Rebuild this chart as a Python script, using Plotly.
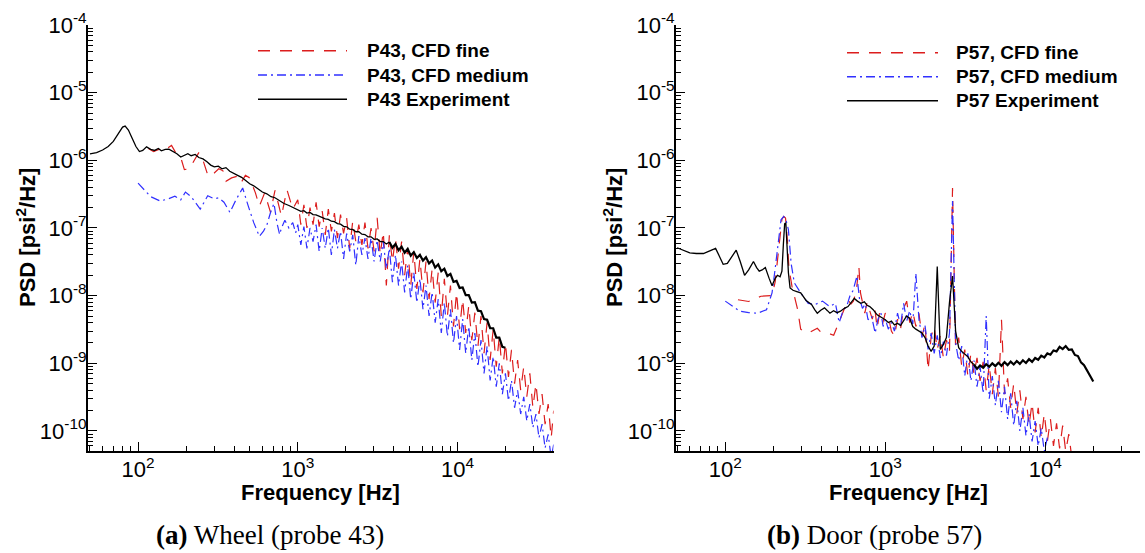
import plotly.graph_objects as go

W, H = 1145, 553


def px(x):
    return x / W


def py(y):
    return 1 - y / H


# ---------------- data ----------------
# shared frequency grid of the high-resolution part of the spectra [Hz]
GRID = [1000, 1045, 1092, 1141, 1193, 1246, 1302, 1361, 1422, 1486,
        1553, 1623, 1696, 1772, 1852, 1935, 2022, 2113, 2208, 2308,
        2411, 2520, 2633, 2752, 2876, 3005, 3140, 3282, 3429, 3584,
        3745, 3913, 4089, 4274, 4466, 4667, 4877, 5096, 5326, 5565,
        5816, 6078, 6351, 6637, 6936, 7248, 7574, 7915, 8271, 8644,
        9033, 9439, 9864, 10308, 10772, 11256, 11763, 12292, 12845, 13423,
        14027, 14659, 15318, 16008, 16728, 17481, 18268, 19090, 19949, 20846,
        21784, 22765, 23789, 24860, 25978, 27147, 28369, 29646, 30980, 32374,
        33831, 35353, 36944, 38606, 40000]

# ---- (a) Wheel, probe 43 ----
EXP43_F = [50, 55, 60, 65, 70, 75, 80, 83, 87, 92, 97, 102, 107, 113, 120, 127, 134, 140, 148, 156,
           165, 175, 185, 195, 205, 215, 228, 240, 255, 270, 285, 300, 318, 335, 355, 375, 395, 420,
           445, 470, 500, 530, 560, 600, 640, 680, 720, 770, 820, 880, 940]
EXP43_LO = [1.25e-6, 1.3e-6, 1.42e-6, 1.6e-6, 1.9e-6, 2.4e-6, 3.1e-6, 3.2e-6, 2.8e-6, 2.1e-6,
            1.6e-6, 1.35e-6, 1.4e-6, 1.58e-6, 1.45e-6, 1.4e-6, 1.5e-6, 1.38e-6, 1.45e-6, 1.46e-6,
            1.35e-6, 1.25e-6, 1.12e-6, 1.2e-6, 1.25e-6, 1.17e-6, 1.22e-6, 1.1e-6, 1.05e-6, 9.5e-7,
            8.5e-7, 8.0e-7, 8.2e-7, 7.5e-7, 7.8e-7, 6.9e-7, 6.4e-7, 6.0e-7, 5.6e-7, 5.0e-7,
            4.5e-7, 4.2e-7, 3.8e-7, 3.4e-7, 3.2e-7, 2.9e-7, 2.8e-7, 2.55e-7, 2.3e-7, 2.15e-7, 2.0e-7]
EXP43_HI = [1.88e-7, 1.76e-7, 1.80e-7, 1.66e-7, 1.70e-7, 1.58e-7, 1.56e-7, 1.48e-7, 1.44e-7, 1.36e-7,
            1.34e-7, 1.26e-7, 1.24e-7, 1.16e-7, 1.14e-7, 1.06e-7, 1.04e-7, 9.6e-8, 9.5e-8, 8.8e-8,
            8.8e-8, 8.1e-8, 8.0e-8, 7.4e-8, 7.4e-8, 6.8e-8, 6.9e-8, 6.3e-8, 6.3e-8, 5.8e-8,
            6.2e-8, 5.1e-8, 5.8e-8, 4.7e-8, 5.3e-8, 4.3e-8, 4.9e-8, 3.9e-8, 4.4e-8, 3.6e-8,
            4.0e-8, 3.3e-8, 3.7e-8, 3.0e-8, 3.3e-8, 2.6e-8, 2.9e-8, 2.3e-8, 2.5e-8, 1.95e-8,
            2.1e-8, 1.6e-8, 1.65e-8, 1.3e-8, 1.32e-8, 1.02e-8, 1.02e-8, 7.9e-9, 8.0e-9, 6.0e-9,
            5.9e-9, 4.5e-9, 4.4e-9, 3.3e-9, 3.3e-9, 2.4e-9, 2.4e-9, 1.75e-9, 1.7e-9]

FINE43_F = [116, 125, 135, 145, 155, 162, 172, 185, 195, 210, 225, 240, 255, 275, 300, 320, 340, 355,
            385, 415, 440, 470, 500, 543, 575, 620, 675, 720, 790, 855, 930]
FINE43_LO = [1.5e-6, 1.35e-6, 1.45e-6, 1.4e-6, 1.55e-6, 1.66e-6, 1.3e-6, 1.1e-6, 7.3e-7, 7.5e-7,
             1.0e-6, 1.3e-6, 1.0e-6, 5.8e-7, 6.5e-7, 7.5e-7, 7.0e-7, 4.9e-7, 5.5e-7, 5.8e-7,
             4.6e-7, 6.0e-7, 5.5e-7, 3.3e-7, 2.1e-7, 3.3e-7, 1.7e-7, 3.6e-7, 1.5e-7, 3.7e-7, 1.9e-7]
FINE43_HI = [2.6e-7, 1.12e-7, 2.2e-7, 1.0e-7, 2.0e-7, 1.12e-7, 2.4e-7, 1.05e-7, 1.78e-7, 7.9e-8,
             1.9e-7, 8.9e-8, 1.66e-7, 7.1e-8, 1.58e-7, 8.3e-8, 1.41e-7, 5.0e-8, 1.26e-7, 6.3e-8,
             1.12e-7, 5.6e-8, 1.2e-7, 5.0e-8, 1.0e-7, 4.5e-8, 1.41e-7, 4.0e-8, 8.9e-8, 1.41e-8,
             7.9e-8, 3.2e-8, 7.1e-8, 2.5e-8, 6.3e-8, 2.0e-8, 5.0e-8, 1.41e-8, 4.5e-8, 1.26e-8,
             3.5e-8, 1.12e-8, 3.2e-8, 8.9e-9, 2.5e-8, 7.9e-9, 2.2e-8, 5.0e-9, 1.78e-8, 5.0e-9,
             1.41e-8, 3.5e-9, 1.12e-8, 3.2e-9, 8.9e-9, 2.8e-9, 7.1e-9, 2.2e-9, 5.6e-9, 1.78e-9,
             5.0e-9, 1.41e-9, 4.0e-9, 1.12e-9, 3.2e-9, 8.9e-10, 2.5e-9, 7.1e-10, 2.0e-9, 6.3e-10,
             1.58e-9, 5.0e-10, 1.12e-9, 4.0e-10, 8.9e-10, 3.2e-10, 7.1e-10, 2.2e-10, 5.0e-10, 1.78e-10,
             3.5e-10, 1.26e-10, 2.5e-10, 7.9e-11, 2.0e-10]

MED43_F = [100, 110, 120, 138, 155, 170, 185, 198, 215, 245, 273, 300, 320, 345, 376, 410, 452, 490,
           530, 575, 610, 640, 680, 710, 740, 770, 790, 830, 880, 930, 970]
MED43_LO = [4.6e-7, 3.6e-7, 2.9e-7, 2.5e-7, 2.7e-7, 2.95e-7, 2.6e-7, 3.4e-7, 2.9e-7, 1.9e-7,
            3.0e-7, 2.7e-7, 2.8e-7, 2.4e-7, 1.7e-7, 2.6e-7, 3.9e-7, 2.1e-7, 1.2e-7, 7.5e-8,
            9.0e-8, 1.1e-7, 1.8e-7, 2.3e-7, 1.2e-7, 8.0e-8, 1.0e-7, 1.3e-7, 1.0e-7, 1.2e-7, 8.5e-8]
MED43_HI = [1.12e-7, 5.6e-8, 1.05e-7, 5.0e-8, 1.0e-7, 6.3e-8, 1.12e-7, 4.5e-8, 1.0e-7, 5.0e-8,
            1.0e-7, 4.0e-8, 9.5e-8, 5.0e-8, 8.9e-8, 3.5e-8, 8.3e-8, 4.5e-8, 7.9e-8, 2.8e-8,
            7.6e-8, 4.0e-8, 7.1e-8, 3.5e-8, 7.1e-8, 3.2e-8, 6.6e-8, 3.2e-8, 6.3e-8, 2.5e-8,
            5.0e-8, 1.58e-8, 4.0e-8, 1.41e-8, 3.2e-8, 1.12e-8, 2.8e-8, 8.9e-9, 2.2e-8, 7.9e-9,
            1.78e-8, 6.3e-9, 1.41e-8, 5.0e-9, 1.12e-8, 4.0e-9, 8.9e-9, 2.8e-9, 7.9e-9, 2.5e-9,
            6.3e-9, 2.0e-9, 5.0e-9, 1.58e-9, 4.5e-9, 1.41e-9, 3.5e-9, 1.12e-9, 2.8e-9, 8.9e-10,
            2.2e-9, 7.1e-10, 1.78e-9, 5.6e-10, 1.26e-9, 4.5e-10, 1.0e-9, 3.5e-10, 7.1e-10, 2.8e-10,
            5.6e-10, 2.2e-10, 4.0e-10, 1.78e-10, 3.2e-10, 1.41e-10, 2.5e-10, 1.12e-10, 1.78e-10, 7.9e-11,
            1.26e-10, 5.6e-11, 8.9e-11, 4.0e-11, 6.3e-11]

# ---- (b) Door, probe 57 ----
EXP57_F = [50, 55, 60, 66, 73, 80, 87, 92, 97, 103, 110, 117, 124, 132, 140, 150, 157, 163, 170, 178,
           188, 196, 205, 212, 220, 226, 231, 235, 239, 243, 248, 254, 265, 280, 296, 320, 346, 362,
           376, 395, 417, 435, 451, 475, 500, 525, 555, 585, 610, 640, 670, 703, 740, 770, 800, 840,
           890, 940]
EXP57_LO = [5.1e-8, 4.6e-8, 4.3e-8, 4.2e-8, 4.2e-8, 4.6e-8, 5.0e-8, 3.8e-8, 2.9e-8, 3.0e-8,
            3.8e-8, 4.7e-8, 3.2e-8, 2.0e-8, 2.4e-8, 3.2e-8, 2.6e-8, 2.3e-8, 2.4e-8, 2.6e-8,
            1.8e-8, 1.4e-8, 1.8e-8, 2.0e-8, 1.9e-8, 2.3e-8, 6.0e-8, 1.15e-7, 1.2e-7, 5.0e-8,
            2.2e-8, 1.3e-8, 1.2e-8, 1.15e-8, 1.1e-8, 8.5e-9, 7.4e-9, 6.2e-9, 5.5e-9, 6.1e-9,
            6.6e-9, 6.0e-9, 5.5e-9, 6.0e-9, 5.6e-9, 5.9e-9, 6.5e-9, 6.9e-9, 8.0e-9, 9.1e-9,
            8.3e-9, 7.7e-9, 8.1e-9, 7.2e-9, 6.9e-9, 6.2e-9, 5.2e-9, 4.8e-9]
EXP57_HI = [4.4e-9, 4.0e-9, 4.2e-9, 3.7e-9, 3.9e-9, 3.6e-9, 4.2e-9, 5.0e-9, 4.6e-9, 3.5e-9,
            3.2e-9, 3.0e-9, 2.8e-9, 2.4e-9, 1.8e-9, 1.5e-9, 1.8e-9, 2.7e-8, 1.6e-9, 1.9e-9,
            2.4e-9, 8.0e-9, 1.95e-8, 3.0e-9, 1.7e-9, 1.5e-9, 1.35e-9, 1.25e-9, 1.05e-9, 9.6e-10,
            8.3e-10, 9.3e-10, 8.6e-10, 9.7e-10, 8.9e-10, 1.0e-9, 9.1e-10, 1.02e-9, 9.2e-10, 1.04e-9,
            9.4e-10, 1.06e-9, 9.6e-10, 1.08e-9, 9.8e-10, 1.11e-9, 1.01e-9, 1.15e-9, 1.05e-9, 1.2e-9,
            1.13e-9, 1.3e-9, 1.22e-9, 1.4e-9, 1.34e-9, 1.55e-9, 1.5e-9, 1.75e-9, 1.62e-9, 1.8e-9,
            1.58e-9, 1.6e-9, 1.33e-9, 1.28e-9, 1.03e-9, 9.4e-10, 7.6e-10, 6.5e-10, 5.4e-10]

FINE57_F = [120, 130, 140, 167, 185, 196, 205, 213, 220, 226, 232, 238, 244, 250, 261, 272, 283, 296,
            313, 330, 350, 376, 395, 428, 455, 476, 500, 525, 555, 585, 610, 632, 660, 684, 700, 720,
            745, 770, 800, 830, 860, 890, 920, 960]
FINE57_LO = [8.7e-9, 8.4e-9, 8.2e-9, 9.8e-9, 9.8e-9, 1.0e-8, 1.6e-8, 3.5e-8, 8.0e-8, 1.35e-7,
             1.48e-7, 1.4e-7, 7.0e-8, 2.5e-8, 1.38e-8, 9.5e-9, 6.3e-9, 3.2e-9, 2.9e-9, 2.8e-9,
             3.0e-9, 3.3e-9, 2.9e-9, 2.8e-9, 2.7e-9, 2.6e-9, 3.5e-9, 4.4e-9, 6.5e-9, 8.7e-9,
             7.5e-9, 8.3e-9, 1.2e-8, 2.7e-8, 1.1e-8, 8.0e-9, 5.5e-9, 8.0e-9, 6.2e-9, 4.5e-9,
             6.5e-9, 3.3e-9, 5.5e-9, 3.8e-9]
FINE57_HI = [5.5e-9, 4.9e-9, 3.0e-9, 2.5e-9, 4.5e-9, 3.2e-9, 6.5e-9, 8.3e-9, 4.0e-9, 5.8e-9,
             3.5e-9, 5.5e-9, 2.5e-9, 3.8e-9, 7.9e-10, 2.5e-9, 3.5e-9, 1.58e-9, 2.6e-9, 1.2e-9,
             2.2e-9, 1.5e-9, 3.9e-7, 1.6e-9, 2.4e-9, 9.0e-10, 1.6e-9, 6.5e-10, 1.4e-9, 7.0e-10,
             1.2e-9, 5.5e-10, 1.05e-9, 4.0e-10, 9.5e-10, 3.5e-10, 8.5e-10, 3.2e-10, 4.4e-9, 3.5e-10,
             6.0e-10, 2.2e-10, 5.0e-10, 1.8e-10, 4.0e-10, 1.5e-10, 3.2e-10, 1.2e-10, 2.6e-10, 9.5e-11,
             2.2e-10, 8.0e-11, 1.8e-10, 7.0e-11, 1.5e-10, 6.0e-11, 1.3e-10, 5.5e-11, 1.2e-10, 5.0e-11,
             9.0e-11, 4.0e-11]

MED57_F = [100, 110, 123, 140, 159, 181, 196, 205, 213, 223, 232, 240, 248, 258, 270, 296, 330, 365,
           405, 450, 488, 515, 545, 575, 600, 630, 665, 690, 720, 750, 780, 820, 865, 900, 940, 970]
MED57_LO = [8.3e-9, 7.0e-9, 5.9e-9, 5.6e-9, 5.5e-9, 6.2e-9, 1.1e-8, 2.5e-8, 5.4e-8, 1.32e-7,
            1.48e-7, 1.3e-7, 9.5e-8, 3.0e-8, 1.55e-8, 1.1e-8, 7.7e-9, 7.4e-9, 8.3e-9, 6.9e-9,
            7.7e-9, 4.0e-9, 6.0e-9, 7.0e-9, 9.8e-9, 1.2e-8, 1.95e-8, 9.0e-9, 6.5e-9, 7.5e-9,
            4.4e-9, 5.0e-9, 2.8e-9, 4.5e-9, 5.5e-9, 3.5e-9]
MED57_HI = [4.5e-9, 3.2e-9, 4.0e-9, 3.0e-9, 5.5e-9, 3.6e-9, 7.7e-9, 4.2e-9, 6.0e-9, 3.8e-9,
            2.15e-8, 4.5e-9, 2.4e-9, 3.6e-9, 1.6e-9, 2.8e-9, 1.4e-9, 2.6e-9, 1.2e-9, 2.1e-9,
            1.3e-9, 2.8e-9, 2.5e-7, 2.0e-9, 1.1e-9, 1.8e-9, 6.5e-10, 1.4e-9, 5.5e-10, 1.1e-9,
            4.5e-10, 9.0e-10, 3.6e-10, 5.0e-9, 3.0e-10, 6.5e-10, 2.4e-10, 5.5e-10, 1.9e-10, 4.5e-10,
            1.5e-10, 3.6e-10, 1.2e-10, 2.8e-10, 1.0e-10, 2.2e-10, 8.5e-11, 1.8e-10, 7.0e-11, 1.4e-10,
            6.0e-11, 1.1e-10, 5.0e-11, 8.0e-11]

X_TICKS = [100, 1000, 10000]
X_TICKTEXT = ["10<sup>2</sup>", "10<sup>3</sup>", "10<sup>4</sup>"]
Y_EXPS = [-10, -9, -8, -7, -6, -5, -4]

LEG43 = ["P43, CFD fine", "P43, CFD medium", "P43 Experiment"]
LEG57 = ["P57, CFD fine", "P57, CFD medium", "P57 Experiment"]

# ---------------- styling ----------------
RED = "#dc1d1d"
BLUE = "#3030ff"
BLACK = "#000000"
DASH_RED = "12px,10px"
DASH_BLUE = "9px,4px,2px,4px"
SANS = "Liberation Sans, Arial, Helvetica, sans-serif"
SERIF = "Liberation Serif, Times New Roman, serif"

fig = go.Figure()


def add(freqs, vals, color, dash, width, ax):
    n = min(len(freqs), len(vals))
    fig.add_trace(go.Scatter(
        x=freqs[:n], y=vals[:n], mode="lines",
        line=dict(color=color, width=width, dash=dash),
        xaxis="x" + ax, yaxis="y" + ax, showlegend=False, hoverinfo="skip"))


def add_exp(freqs, vals, split, ax):
    # measured spectrum: thin line at low frequency, denser (thicker) trace above `split` Hz
    lo = [(f, v) for f, v in zip(freqs, vals) if f <= split]
    hi = [(f, v) for f, v in zip(freqs, vals) if f >= split]
    add([p[0] for p in lo], [p[1] for p in lo], BLACK, "solid", 1.3, ax)
    add([p[0] for p in hi], [p[1] for p in hi], BLACK, "solid", 2.2, ax)


add(FINE43_F + GRID[:len(FINE43_HI)], FINE43_LO + FINE43_HI, RED, DASH_RED, 1.2, "")
add(MED43_F + GRID[:len(MED43_HI)], MED43_LO + MED43_HI, BLUE, DASH_BLUE, 1.2, "")
add_exp(EXP43_F + GRID[:len(EXP43_HI)], EXP43_LO + EXP43_HI, 3745, "")

add(FINE57_F + GRID[:len(FINE57_HI)], FINE57_LO + FINE57_HI, RED, DASH_RED, 1.2, "2")
add(MED57_F + GRID[:len(MED57_HI)], MED57_LO + MED57_HI, BLUE, DASH_BLUE, 1.2, "2")
add_exp(EXP57_F + GRID[:len(EXP57_HI)], EXP57_LO + EXP57_HI, 3584, "2")

tickfont = dict(family=SANS, size=22, color="black")
x_minor = [m * 10 ** e for e in range(1, 5) for m in range(2, 10) if 50 <= m * 10 ** e <= 40000]
y_minor = [m * 10.0 ** e for e in range(-11, -4) for m in range(2, 10)]

common_x = dict(type="log", tickmode="array", tickvals=X_TICKS, ticktext=X_TICKTEXT,
                ticks="inside", ticklen=9, tickwidth=1.3, tickcolor="black",
                showline=True, linecolor="black", linewidth=2, mirror=False,
                showgrid=False, zeroline=False, tickfont=tickfont, automargin=False,
                ticklabelstandoff=-2,
                minor=dict(tickvals=x_minor, ticks="inside", ticklen=5, tickwidth=1,
                           tickcolor="black", showgrid=False))
common_y = dict(type="log", tickmode="array", tickvals=[10.0 ** e for e in Y_EXPS],
                ticktext=["10<sup>%d</sup>" % e for e in Y_EXPS],
                ticks="inside", ticklen=9, tickwidth=1.3, tickcolor="black",
                showline=True, linecolor="black", linewidth=2, mirror=False,
                showgrid=False, zeroline=False, tickfont=tickfont, automargin=False,
                ticklabelstandoff=-5,
                minor=dict(tickvals=y_minor, ticks="inside", ticklen=5, tickwidth=1,
                           tickcolor="black", showgrid=False))

Y_DOM = [py(451), py(25)]
fig.update_layout(
    width=W, height=H, margin=dict(l=0, r=0, t=0, b=0, autoexpand=False),
    paper_bgcolor="white", plot_bgcolor="white", showlegend=False,
    xaxis=dict(domain=[px(88), px(553.5)], range=[1.6866, 4.601], anchor="y", **common_x),
    yaxis=dict(domain=Y_DOM, range=[-10.296, -4], anchor="x", **common_y),
    xaxis2=dict(domain=[px(676), px(1139.5)], range=[1.692, 4.589], anchor="y2", **common_x),
    yaxis2=dict(domain=Y_DOM, range=[-10.296, -4], anchor="x2", **common_y),
)

annotations = []
shapes = []


def legend(x0, x1, xt, ys, labels):
    styles = [(RED, DASH_RED), (BLUE, DASH_BLUE), (BLACK, "solid")]
    for (c, d), y, lab in zip(styles, ys, labels):
        shapes.append(dict(type="line", xref="paper", yref="paper", x0=px(x0), x1=px(x1),
                           y0=py(y), y1=py(y), line=dict(color=c, width=1.4, dash=d)))
        annotations.append(dict(xref="paper", yref="paper", x=px(xt), y=py(y), text="<b>%s</b>" % lab,
                                showarrow=False, xanchor="left", yanchor="middle",
                                font=dict(family=SANS, size=19, color="black")))


legend(258, 347, 365, [50.7, 75, 99.3], LEG43)
legend(847, 938, 954, [52.7, 76.7, 100.7], LEG57)

for xc in (26, 613):
    annotations.append(dict(xref="paper", yref="paper", x=px(xc), y=py(238),
                            text="<b>PSD [psi<sup>2</sup>/Hz]</b>", textangle=-90, showarrow=False,
                            xanchor="center", yanchor="middle",
                            font=dict(family=SANS, size=22, color="black")))
for xc in (320, 908):
    annotations.append(dict(xref="paper", yref="paper", x=px(xc), y=py(492),
                            text="<b>Frequency [Hz]</b>", showarrow=False,
                            xanchor="center", yanchor="middle",
                            font=dict(family=SANS, size=22, color="black")))

CAPTIONS = [("<b>(a)</b> Wheel (probe 43)", 270), ("<b>(b)</b> Door (probe 57)", 874)]
for txt, xc in CAPTIONS:
    annotations.append(dict(xref="paper", yref="paper", x=px(xc), y=py(535), text=txt,
                            showarrow=False, xanchor="center", yanchor="middle",
                            font=dict(family=SERIF, size=27, color="black")))

fig.update_layout(annotations=annotations, shapes=shapes)
fig.write_html("out.html")
